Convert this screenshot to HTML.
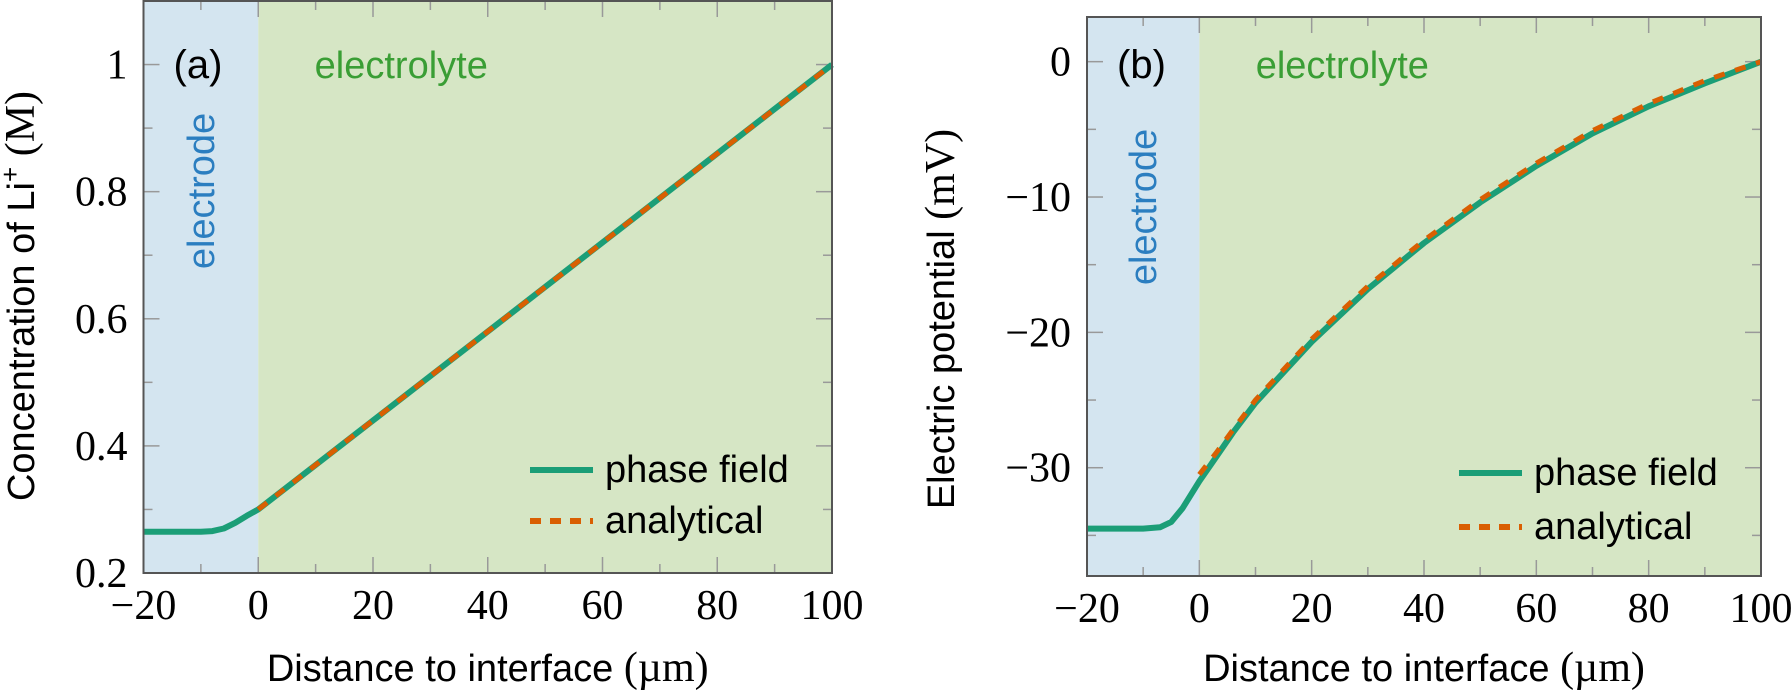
<!DOCTYPE html>
<html><head><meta charset="utf-8"><style>
body{margin:0;background:#fff}
svg text{font-family:"Liberation Serif",serif}
.s{font-family:"Liberation Sans",sans-serif}
</style></head><body>
<svg id="c" width="1791" height="694" xmlns="http://www.w3.org/2000/svg"></svg>
<script>
const xA=[-20,-10,-8,-6,-4,-2,0,10,20,30,40,50,60,70,80,90,100];
const pfA=[0.265,0.265,0.266,0.27,0.279,0.29,0.3,0.37,0.44,0.51,0.58,0.65,0.72,0.79,0.86,0.93,1.0];
const anXA=[0,100];
const anA=[0.3,1.0];
const xB=[-20,-10,-7,-5,-3,-1.5,0,3,6,10,20,30,40,50,60,70,80,90,100];
const pfB=[-34.5,-34.5,-34.4,-34.0,-33.0,-32.0,-31.0,-29.2,-27.4,-25.2,-20.7,-16.8,-13.4,-10.4,-7.7,-5.3,-3.3,-1.6,0];
const anXB=[0,3,6,10,20,30,40,50,60,70,80,90,100];
const anB=[-30.5,-28.9,-27.2,-25.0,-20.5,-16.6,-13.2,-10.2,-7.5,-5.1,-3.1,-1.4,0];
const xTicks=[-20,0,20,40,60,80,100];
const yTicksA=[0.2,0.4,0.6,0.8,1];
const yLabA=["0.2","0.4","0.6","0.8","1"];
const yTicksB=[-30,-20,-10,0];
const yLabB=["\u221230","\u221220","\u221210","0"];
const svg=document.getElementById('c');const NS="http://www.w3.org/2000/svg";
function mk(t,a,p){const e=document.createElementNS(NS,t);for(const k in a)e.setAttribute(k,a[k]);(p||svg).appendChild(e);return e;}
function panel(P){
 const g=mk('g',{});
 
 
 const sx=v=>P.l+(v-(-20))/120*(P.r-P.l);
 const sy=v=>P.b-(v-P.y0)/(P.y1-P.y0)*(P.b-P.t);
 let e=mk('rect',{x:P.l,y:P.t,width:sx(0)-P.l,height:P.b-P.t,fill:'#d4e5f0'},g);
 
 e=mk('rect',{x:sx(0),y:P.t,width:P.r-sx(0),height:P.b-P.t,fill:'#d6e6c5'},g);
 
 for(let v=-20;v<=100;v+=10){const L=v%20==0?16:9;const x=sx(v);
  mk('line',{x1:x,x2:x,y1:P.b,y2:P.b-L,stroke:'#999','stroke-width':1.5},g);
  mk('line',{x1:x,x2:x,y1:P.t,y2:P.t+L,stroke:'#999','stroke-width':1.5},g);}
 for(let v=P.y0;v<=P.y1+1e-9;v+=P.minor){const vv=Math.round(v/P.minor)*P.minor;const maj=P.yt.some(t=>Math.abs(t-vv)<1e-6);const L=maj?16:9;const y=sy(vv);if(y<P.t+2||y>P.b-2)continue;
  mk('line',{x1:P.l,x2:P.l+L,y1:y,y2:y,stroke:'#999','stroke-width':1.5},g);
  mk('line',{x1:P.r,x2:P.r-L,y1:y,y2:y,stroke:'#999','stroke-width':1.5},g);}
 xTicks.forEach(v=>{const t=mk('text',{x:sx(v),y:P.b+46,'font-size':42,'text-anchor':'middle'},g);t.textContent=v<0?'\u2212'+(-v):v;
  });
 P.yt.forEach((v,i)=>{const t=mk('text',{x:P.l-16,y:sy(v)+14,'font-size':42,'text-anchor':'end'},g);t.textContent=P.yl[i];
  });
 const path=(xs,ys)=>xs.map((x,i)=>(i?'L':'M')+sx(x).toFixed(1)+','+sy(ys[i]).toFixed(1)).join('');
 e=mk('path',{d:path(P.px,P.py),fill:'none',stroke:'#1b9e77','stroke-width':6,'stroke-linejoin':'round'},g);
 
 e=mk('path',{d:path(P.ax,P.ay),fill:'none',stroke:'#d95f02','stroke-width':5,'stroke-dasharray':'11,11'},g);
 
 mk('rect',{x:P.l,y:P.t,width:P.r-P.l,height:P.b-P.t,fill:'none',stroke:'#555','stroke-width':2},g);
 let t=mk('text',{x:P.l+30,y:78,'font-size':40,class:'s'},g);t.textContent=P.tag;
 
 t=mk('text',{x:sx(0)+143,y:78,'font-size':38,fill:'#3a9e35',class:'s','text-anchor':'middle'},g);t.textContent='electrolyte';
 
 t=mk('text',{x:0,y:0,'font-size':38,fill:'#2b7ec0',class:'s','text-anchor':'middle',transform:`translate(${(P.l+sx(0))/2+13},${P.t+190}) rotate(-90)`},g);t.textContent='electrode';
 
 t=mk('text',{x:(P.l+P.r)/2,y:681,'font-size':38,class:'s','text-anchor':'middle'},g);t.innerHTML='Distance to interface <tspan font-family="Liberation Serif" font-size="42">(µm)</tspan>';
 
 t=mk('text',{x:0,y:0,'font-size':38,class:'s','text-anchor':'middle',transform:`translate(${P.yx},${P.ymid}) rotate(-90)`},g);t.innerHTML=P.ytitle;
 
 [['phase field','#1b9e77',null,P.lg1],['analytical','#d95f02','11,9',P.lg2]].forEach(([n,c,d,y])=>{
  const a={x1:P.lx,x2:P.lx+63,y1:y,y2:y,stroke:c,'stroke-width':6};if(d)a['stroke-dasharray']=d;
  const ln=mk('line',a,g);
  const tt=mk('text',{x:P.lx+75,y:y+12,'font-size':38,class:'s'},g);tt.textContent=n;
  });
}
panel({id:'panel-a',l:143.5,r:832,t:1,b:573,y0:0.2,y1:1.1,minor:0.1,yt:yTicksA,yl:yLabA,px:xA,py:pfA,ax:anXA,ay:anA,tag:'(a)',
 yx:34,ymid:296,ytitle:'Concentration of Li<tspan baseline-shift="super" font-size="26">+</tspan> <tspan font-family="Liberation Serif" font-size="42">(M)</tspan>',lx:530,lg1:470,lg2:521});
panel({id:'panel-b',l:1087,r:1761,t:17,b:576,y0:-38,y1:3.3,minor:5,yt:yTicksB,yl:yLabB,px:xB,py:pfB,ax:anXB,ay:anB,tag:'(b)',
 yx:954,ymid:319,ytitle:'Electric potential <tspan font-family="Liberation Serif" font-size="42">(mV)</tspan>',lx:1459,lg1:473,lg2:527});
</script>
</body></html>
